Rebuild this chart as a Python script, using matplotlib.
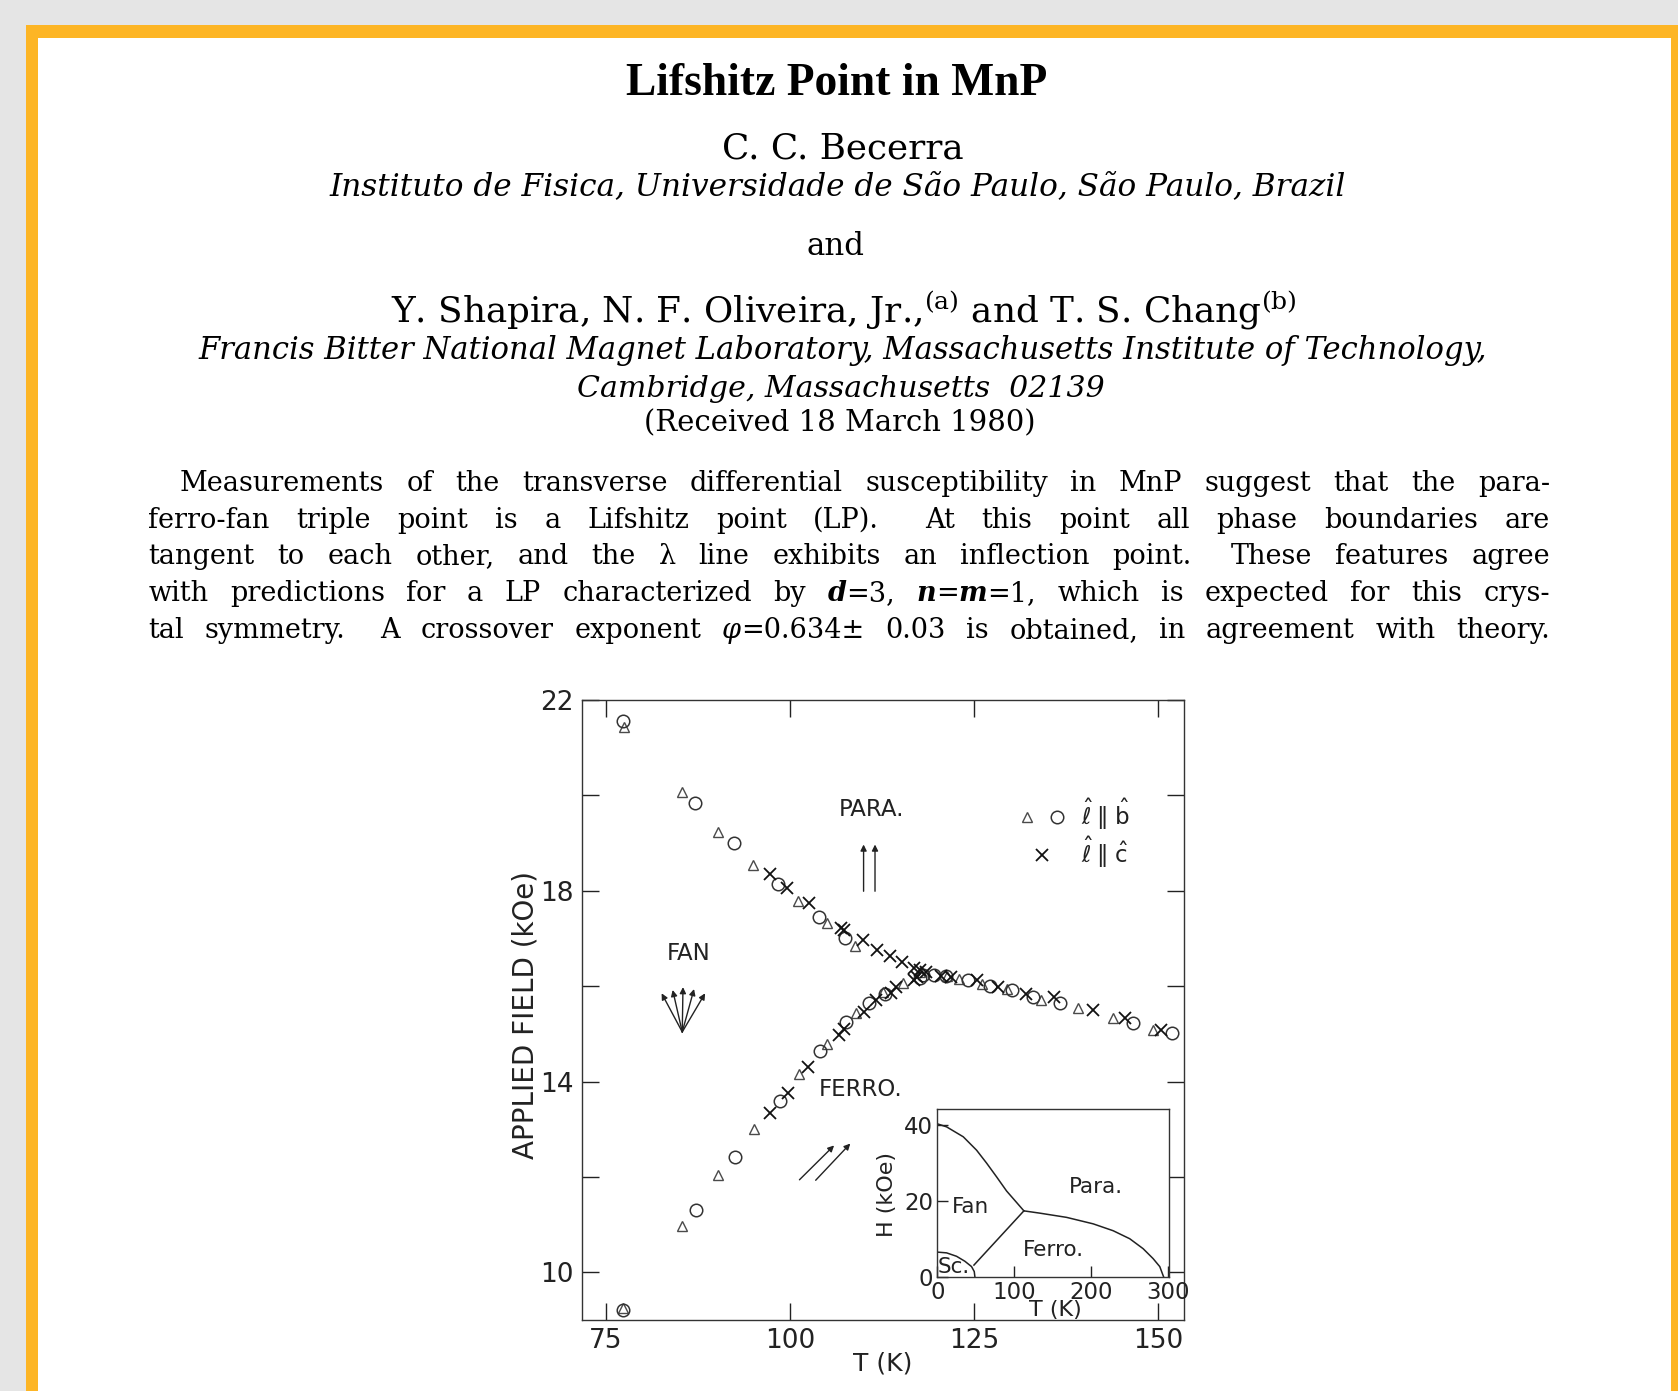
import re
import matplotlib
matplotlib.use('Agg')
import matplotlib.pyplot as plt
from matplotlib.patches import Rectangle
from matplotlib.legend_handler import HandlerTuple

# ---------------- data ----------------
# l || b : triangles
tri_T = [77.5, 85.3, 90.3, 95.0, 101.1, 105.0, 108.9, 117.6, 121.3, 123.0, 126.0, 129.5,
         134.1, 139.1, 143.9, 149.3,
         77.3, 85.4, 90.3, 95.1, 101.2, 105.0, 109.0, 112.6, 115.3]
tri_H = [21.44, 20.07, 19.23, 18.53, 17.78, 17.32, 16.84, 16.30, 16.22, 16.14, 16.05, 15.93,
         15.72, 15.54, 15.33, 15.08,
         9.25, 10.98, 12.05, 13.00, 14.16, 14.79, 15.43, 15.88, 16.06]
# l || b : circles
circ_T = [77.4, 87.1, 92.4, 98.4, 104.0, 107.5, 118.0, 119.6, 121.2, 124.2, 127.1, 130.2,
          133.0, 136.6, 146.6, 151.8,
          77.3, 87.2, 92.5, 98.6, 104.1, 107.6, 110.8, 112.9, 117.6]
circ_H = [21.56, 19.85, 19.00, 18.15, 17.45, 17.02, 16.24, 16.24, 16.21, 16.12, 16.00, 15.92,
          15.78, 15.64, 15.22, 15.01,
          9.20, 11.31, 12.41, 13.59, 14.65, 15.24, 15.64, 15.83, 16.17]
# l || c : crosses
x_T = [97.3, 99.6, 102.6, 106.9, 107.4, 109.9, 111.8, 113.6, 115.2, 116.9, 117.6, 118.5,
       120.5, 121.9, 125.4, 128.2, 132.0, 135.8, 141.1, 145.4, 150.4,
       97.3, 99.8, 102.4, 106.6, 107.3, 110.0, 111.7, 113.7, 114.4, 116.9, 117.2]
x_H = [18.35, 18.05, 17.74, 17.22, 17.18, 16.96, 16.76, 16.64, 16.50, 16.38, 16.34, 16.30,
       16.21, 16.19, 16.12, 15.98, 15.84, 15.77, 15.49, 15.33, 15.08,
       13.35, 13.76, 14.30, 14.97, 15.10, 15.46, 15.72, 15.85, 15.99, 16.13, 16.20]

# inset phase boundaries
fanpara_T = [0, 12.1, 33.8, 51.1, 64.2, 77.2, 90.2, 103.2, 112.7]
fanpara_H = [40.2, 39.4, 36.8, 33.3, 29.9, 26.3, 22.6, 19.6, 17.4]
ferropara_T = [112.7, 133.5, 168.2, 202.9, 228.9, 250.5, 267.9, 280.9, 289.6, 294.8]
ferropara_H = [17.4, 16.8, 15.7, 14.0, 12.2, 10.1, 7.5, 4.9, 2.8, 0.0]
fanferro_T = [112.7, 47.7]
fanferro_H = [17.4, 3.2]
sc_T = [0, 12.1, 25.1, 35.9, 44.6, 48.1, 49.0]
sc_H = [6.6, 6.4, 5.5, 4.2, 2.8, 1.5, 0.0]

main_xticks = [75, 100, 125, 150]
main_yticks = [10, 12, 14, 16, 18, 20, 22]
main_ylabels = ['10', '', '14', '', '18', '', '22']
inset_xticks = [0, 100, 200, 300]
inset_yticks = [0, 20, 40]

abstract_lines = [
    "Measurements of the transverse differential susceptibility in MnP suggest that the para-",
    "ferro-fan triple point is a Lifshitz point (LP).  At this point all phase boundaries are",
    "tangent to each other, and the λ line exhibits an inflection point.  These features agree",
    "with predictions for a LP characterized by *d*=3, *n*=*m*=1, which is expected for this crys-",
    "tal symmetry.  A crossover exponent _φ_=0.634± 0.03 is obtained, in agreement with theory.",
]

# ---------------- page ----------------
W, H = 1678, 1391
fig = plt.figure(figsize=(W / 100, H / 100), dpi=100, facecolor='#e5e5e5')
fig.patches.append(Rectangle((25.5 / W, 0), 1 - 25.5 / W, 1 - 25 / H, transform=fig.transFigure,
                             facecolor='#fdb525', edgecolor='none', zorder=-10))
fig.patches.append(Rectangle((38 / W, 0), (1671 - 38) / W, 1 - 38 / H, transform=fig.transFigure,
                             facecolor='white', edgecolor='none', zorder=-9))
renderer = fig.canvas.get_renderer()


def fx(px):
    return px / W


def fy(py):
    return 1 - py / H


def fit_center(s, cx, base, width, fs0=20, **kw):
    t = fig.text(fx(cx), fy(base), s, ha='center', va='baseline', fontsize=fs0, **kw)
    w = t.get_window_extent(renderer).width
    t.set_fontsize(fs0 * width / w)
    return t


serif = 'DejaVu Serif'
fit_center("Lifshitz Point in MnP", 836.4, 95.2, 420, fs0=30, family='Liberation Serif', weight='bold')
fit_center("C. C. Becerra", 842.7, 158.4, 241, family=serif)
fit_center("Instituto de Fisica, Universidade de São Paulo, São Paulo, Brazil", 837.4, 194.8, 1018,
           family=serif, style='italic')
fit_center("and", 835, 254.7, 58, family=serif)
fit_center(r"Y. Shapira, N. F. Oliveira, Jr.,$^{\rm (a)}$ and T. S. Chang$^{\rm (b)}$", 844.3, 322, 907,
           family=serif, math_fontfamily='dejavuserif')
fit_center("Francis Bitter National Magnet Laboratory, Massachusetts Institute of Technology,", 842.8, 358.5,
           1290, family=serif, style='italic')
fit_center("Cambridge, Massachusetts  02139", 841, 397, 526, family=serif, style='italic')
fit_center("(Received 18 March 1980)", 840, 431.3, 390, family=serif)


def parse_word(word):
    pieces = []
    for tok in re.split(r'(\*[^*]+\*|_[^_]+_)', word):
        if not tok:
            continue
        if tok.startswith('*'):
            pieces.append((tok[1:-1], dict(weight='bold', style='italic')))
        elif tok.startswith('_'):
            pieces.append((tok[1:-1], dict(style='italic')))
        else:
            pieces.append((tok, {}))
    return pieces


abs_fs = 19.5
abs_base = [491, 527.5, 564.5, 601.5, 638]
abs_left = [180, 148.3, 148.3, 148.3, 148.3]
abs_right = 1550
for line, yb, xl in zip(abstract_lines, abs_base, abs_left):
    words = line.split()
    items = []
    for wd in words:
        objs = []
        wsum = 0
        for s, st in parse_word(wd):
            t = fig.text(0, fy(yb), s, ha='left', va='baseline', fontsize=abs_fs, family=serif, **st)
            w = t.get_window_extent(renderer).width
            objs.append((t, w))
            wsum += w
        items.append((objs, wsum, wd))
    total = sum(it[1] for it in items)
    weights = [1.7 if it[2].endswith('.') else 1.0 for it in items[:-1]]
    gap = (abs_right - xl - total) / sum(weights)
    x = xl
    for i, (objs, wsum, wd) in enumerate(items):
        xx = x
        for t, w in objs:
            t.set_x(fx(xx))
            xx += w
        x += wsum
        if i < len(weights):
            x += gap * weights[i]

# ---------------- main chart ----------------
ink = '#222222'
ax = fig.add_axes([582 / W, fy(1320), 601.5 / W, 620 / H])
ax.set_facecolor('none')
ax.set_xlim(71.8, 153.4)
ax.set_ylim(9.0, 22.0)
l_tri, = ax.plot(tri_T, tri_H, ls='none', marker='^', ms=6.5, mfc='none', mec='#4a4a4a', mew=1.0)
l_circ, = ax.plot(circ_T, circ_H, ls='none', marker='o', ms=9, mfc='none', mec='#333333', mew=1.1)
l_x, = ax.plot(x_T, x_H, ls='none', marker='x', ms=8.5, mec='#111111', mew=1.3)

ax.set_xticks(main_xticks)
ax.set_yticks(main_yticks)
ax.set_yticklabels(main_ylabels)
ax.tick_params(direction='in', length=12, width=1.0, top=True, right=True, labelsize=19,
               colors=ink, pad=6)
for sp in ax.spines.values():
    sp.set_color('#333333')
    sp.set_linewidth(1.0)
ax.set_xlabel('T (K)', fontsize=18, color=ink)
ax.set_ylabel('APPLIED FIELD (kOe)', fontsize=20, color=ink)
ax.xaxis.set_label_coords(0.5, -0.051)
ax.yaxis.set_label_coords(-0.07, 0.4926)

lab_kw = dict(ha='center', va='center', fontsize=16.5, color=ink, family='DejaVu Sans')
ax.text(111.1, 19.70, 'PARA.', **lab_kw)
ax.text(86.3, 16.69, 'FAN', **lab_kw)
ax.text(109.6, 13.83, 'FERRO.', **lab_kw)

arr = dict(arrowstyle='-|>', lw=1.0, color=ink, mutation_scale=9, shrinkA=0, shrinkB=0)
para_arrows = [((110.0, 17.99), (110.0, 18.97)), ((111.55, 17.99), (111.55, 18.97))]
fan_base = (85.4, 15.04)
fan_tips = [(82.6, 15.85), (84.1, 15.92), (85.5, 15.98), (87.0, 15.94), (88.5, 15.85)]
ferro_arrows = [((101.3, 11.94), (106.0, 12.66)), ((103.5, 11.93), (108.2, 12.70))]
for tail, tip in para_arrows + [(fan_base, t) for t in fan_tips] + ferro_arrows:
    ax.annotate('', xy=tip, xytext=tail, arrowprops=arr)

leg = ax.legend([(l_tri, l_circ), l_x],
                [r'$\hat{\ell}\;\Vert\;\hat{\mathrm{b}}$', r'$\hat{\ell}\;\Vert\;\hat{\mathrm{c}}$'],
                handler_map={tuple: HandlerTuple(ndivide=None, pad=0.0)},
                loc='upper left', bbox_to_anchor=(fx(1012), fy(797)), bbox_transform=fig.transFigure,
                frameon=False, fontsize=16.5, handlelength=2.6, handletextpad=0.4,
                borderpad=0, borderaxespad=0, labelspacing=0.12, numpoints=1)
for t in leg.get_texts():
    t.set_color(ink)

# ---------------- inset ----------------
axin = fig.add_axes([937.3 / W, fy(1277.3), 232 / W, 168 / H])
axin.set_facecolor('white')
for T_, H_ in [(fanpara_T, fanpara_H), (ferropara_T, ferropara_H), (fanferro_T, fanferro_H), (sc_T, sc_H)]:
    axin.plot(T_, H_, color=ink, lw=1.1)
axin.set_xlim(0, 302)
axin.set_ylim(0, 44)
axin.set_xticks(inset_xticks)
axin.set_yticks(inset_yticks)
axin.tick_params(direction='in', length=8, width=1.0, labelsize=16.5, colors=ink, pad=3)
for sp in axin.spines.values():
    sp.set_color('#333333')
    sp.set_linewidth(1.0)
axin.set_xlabel('T (K)', fontsize=16, color=ink)
axin.set_ylabel('H (kOe)', fontsize=16, color=ink)
axin.xaxis.set_label_coords(0.507, -0.135)
axin.yaxis.set_label_coords(-0.175, 0.49)
in_kw = dict(ha='center', va='center', fontsize=15.5, color=ink)
axin.text(206, 23.6, 'Para.', **in_kw)
axin.text(43.3, 18.3, 'Fan', **in_kw)
axin.text(151, 7.1, 'Ferro.', **in_kw)
axin.text(20.8, 2.6, 'Sc.', **in_kw)

fig.savefig('out.png', dpi=100, facecolor=fig.get_facecolor())
